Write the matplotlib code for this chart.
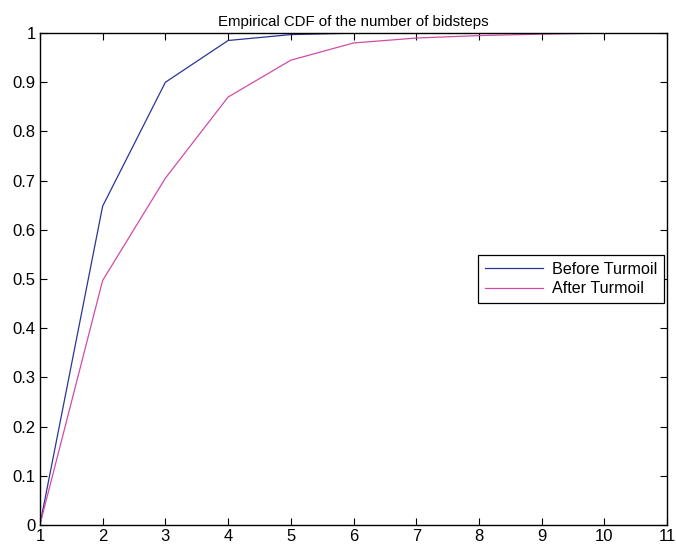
import numpy as np
import matplotlib
matplotlib.use('Agg')
import matplotlib.pyplot as plt
plt.rcParams['font.family'] = ['Liberation Sans', 'DejaVu Sans']

# number of bidsteps
steps = [1, 2, 3, 4, 5, 6, 7, 8, 9, 10, 11]
cdf_before = [0, 0.648, 0.900, 0.985, 0.997, 1.0, 1.0, 1.0, 1.0, 1.0, 1.0]
cdf_after = [0, 0.497, 0.705, 0.870, 0.945, 0.980, 0.990, 0.995, 0.998, 1.0, 1.0]

fig = plt.figure(figsize=(6.76, 5.52), dpi=100)
ax = fig.add_axes([0.059, 0.049, 0.928, 0.891])

ax.plot(steps, cdf_before, c='#2a3596', linewidth=0.9, label='Before Turmoil')
ax.plot(steps, cdf_after, c='#d24aa8', linewidth=0.9, label='After Turmoil')

ax.set_xlim(1, 11)
ax.set_ylim(0, 1)
ax.set_xticks(steps)
ax.set_yticks(np.arange(0, 11) / 10)
ax.set_yticklabels(['0', '0.1', '0.2', '0.3', '0.4', '0.5', '0.6', '0.7', '0.8', '0.9', '1'])
ax.tick_params(direction='in', top=True, right=True, labelsize=12, length=5, width=0.8, pad=3)
for s in ax.spines.values():
    s.set_linewidth(1.0)

ax.set_title('Empirical CDF of the number of bidsteps', fontsize=10.8, pad=5)

leg = ax.legend(loc='center right', bbox_to_anchor=(0.995, 0.5), fontsize=11.6,
                fancybox=False, framealpha=1, edgecolor='black',
                borderpad=0.4, handlelength=3.6, handletextpad=0.6,
                labelspacing=0.3, borderaxespad=0)
leg.get_frame().set_linewidth(0.9)

plt.savefig('out.png', dpi=100)
